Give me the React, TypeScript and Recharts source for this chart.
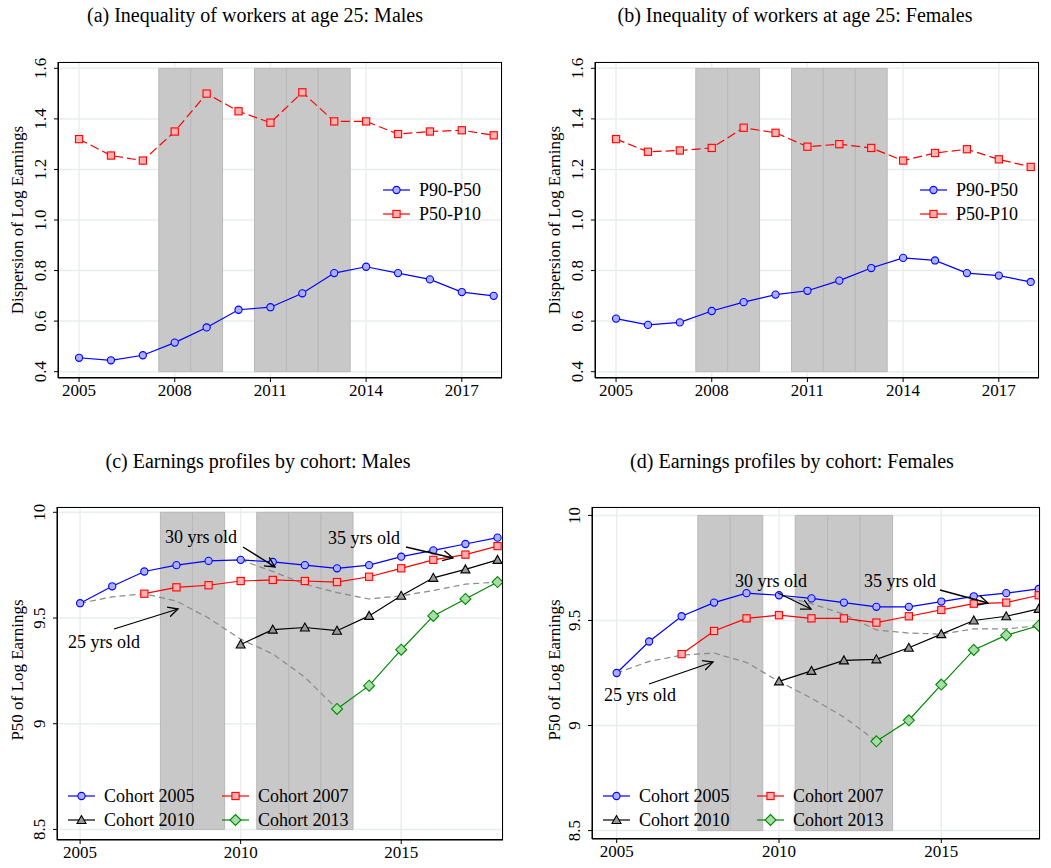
import React from 'react';
import { LineChart, Line, XAxis, YAxis, CartesianGrid, ReferenceArea } from 'recharts';

const years = [2005, 2006, 2007, 2008, 2009, 2010, 2011, 2012, 2013, 2014, 2015, 2016, 2017, 2018];

// (a) males, (b) females
const maleP9050 = [0.455, 0.445, 0.465, 0.515, 0.575, 0.645, 0.655, 0.71, 0.79, 0.815, 0.79, 0.765, 0.715, 0.7];
const maleP5010 = [1.32, 1.255, 1.235, 1.35, 1.5, 1.43, 1.385, 1.505, 1.39, 1.39, 1.34, 1.35, 1.355, 1.335];
const femP9050 = [0.61, 0.585, 0.595, 0.64, 0.675, 0.705, 0.72, 0.76, 0.81, 0.85, 0.84, 0.79, 0.78, 0.755];
const femP5010 = [1.32, 1.27, 1.275, 1.285, 1.365, 1.345, 1.29, 1.3, 1.285, 1.235, 1.265, 1.28, 1.24, 1.21];

// (c) males cohorts (null = not observed)
const mC2005 = [9.57, 9.65, 9.72, 9.75, 9.77, 9.775, 9.765, 9.75, 9.735, 9.75, 9.79, 9.82, 9.85, 9.88];
const mC2007 = [null, null, 9.615, 9.645, 9.655, 9.675, 9.68, 9.675, 9.67, 9.695, 9.735, 9.775, 9.8, 9.84];
const mC2010 = [null, null, null, null, null, 9.375, 9.445, 9.455, 9.44, 9.51, 9.605, 9.69, 9.73, 9.775];
const mC2013 = [null, null, null, null, null, null, null, null, 9.07, 9.18, 9.35, 9.51, 9.59, 9.67];
const mAge25 = [9.57, 9.6, 9.615, 9.58, 9.5, 9.4, 9.33, 9.22, 9.07, null, null, null, null, null];
const mAge30 = [null, null, null, null, null, 9.775, 9.72, 9.66, 9.62, 9.59, 9.605, 9.63, 9.66, 9.67];

// (d) females cohorts
const fC2005 = [9.25, 9.4, 9.52, 9.585, 9.63, 9.62, 9.605, 9.585, 9.565, 9.565, 9.59, 9.615, 9.63, 9.65];
const fC2007 = [null, null, 9.34, 9.45, 9.51, 9.525, 9.51, 9.51, 9.49, 9.52, 9.55, 9.58, 9.585, 9.62];
const fC2010 = [null, null, null, null, null, 9.21, 9.26, 9.31, 9.315, 9.37, 9.435, 9.5, 9.52, 9.555];
const fC2013 = [null, null, null, null, null, null, null, null, 8.925, 9.025, 9.195, 9.36, 9.43, 9.475];
const fAge25 = [9.25, 9.305, 9.335, 9.345, 9.3, 9.21, 9.13, 9.04, 8.925, null, null, null, null, null];
const fAge30 = [null, null, null, null, null, 9.62, 9.58, 9.53, 9.455, 9.44, 9.435, 9.46, 9.46, 9.475];

const recessions = [[2007.5, 2008.5], [2008.5, 2009.5], [2010.5, 2011.5], [2011.5, 2012.5], [2012.5, 2013.5]];

const FONT = 'Liberation Serif, Times New Roman, DejaVu Serif, serif';

const build = (cols: Record<string, (number | null)[]>) =>
  years.map((y, i) => {
    const row: any = { year: y };
    Object.keys(cols).forEach((k) => (row[k] = cols[k][i]));
    return row;
  });

const Circle = (c: string, f: string) => (p: any) =>
  p.value == null ? null : <circle cx={p.cx} cy={p.cy} r={3.6} stroke={c} fill={f} strokeWidth={1.1} />;
const Square = (c: string, f: string) => (p: any) =>
  p.value == null ? null : <rect x={p.cx - 3.6} y={p.cy - 3.6} width={7.2} height={7.2} stroke={c} fill={f} strokeWidth={1.1} />;
const Tri = (c: string, f: string) => (p: any) =>
  p.value == null ? null : (
    <polygon points={`${p.cx},${p.cy - 4.5} ${p.cx - 4.5},${p.cy + 3.5} ${p.cx + 4.5},${p.cy + 3.5}`} stroke={c} fill={f} strokeWidth={1.1} />
  );
const Diamond = (c: string, f: string) => (p: any) =>
  p.value == null ? null : (
    <polygon points={`${p.cx},${p.cy - 5.5} ${p.cx + 5.5},${p.cy} ${p.cx},${p.cy + 5.5} ${p.cx - 5.5},${p.cy}`} stroke={c} fill={f} strokeWidth={1.1} />
  );

const YTick = (p: any) => (
  <text x={p.x - 6} y={p.y} transform={`rotate(-90 ${p.x - 6} ${p.y})`} textAnchor="middle" style={{ fontSize: 17, fontFamily: FONT }} fill="#000">
    {p.fixed ? Number(p.payload.value).toFixed(1) : p.payload.value}
  </text>
);

type SeriesDef = { key: string; color: string; dot: any; dash?: string };

const Panel: React.FC<{
  left: number; top: number; width: number; height: number; mLeft: number; mRight: number; fixed?: boolean;
  data: any[]; series: SeriesDef[]; yDomain: [number, number]; yTicks: number[]; xDomain: [number, number]; xTicks: number[];
}> = (p) => (
  <div style={{ position: 'absolute', left: p.left, top: p.top }}>
    <LineChart width={p.width} height={p.height} data={p.data} margin={{ top: 22, right: p.mRight, left: p.mLeft, bottom: 2 }}>
      <CartesianGrid stroke="#e8eeee" strokeWidth={1.5} />
      {recessions.map((r, i) => (
        <ReferenceArea key={i} x1={r[0]} x2={r[1]} y1={p.yTicks[0]} y2={p.yTicks[p.yTicks.length - 1]} fill="#c8c8c8" fillOpacity={1} stroke="#b8b8b8" strokeWidth={1} ifOverflow="hidden" />
      ))}
      <XAxis dataKey="year" type="number" domain={p.xDomain} ticks={p.xTicks} height={30} tick={{ fontSize: 17, fontFamily: FONT, fill: '#000', style: { fontFamily: FONT } }} tickSize={4} stroke="#000" allowDataOverflow />
      <YAxis type="number" domain={p.yDomain} ticks={p.yTicks} width={40} tick={<YTick fixed={p.fixed} />} tickSize={4} stroke="#000" allowDataOverflow />
      {p.series.map((s) => (
        <Line key={s.key} dataKey={s.key} stroke={s.color} strokeWidth={1.2} strokeDasharray={s.dash} dot={s.dot} activeDot={false} isAnimationActive={false} connectNulls={false} />
      ))}
    </LineChart>
    <div style={{ position: 'absolute', left: p.mLeft + 40, top: 22, width: p.width - p.mLeft - 40 - p.mRight, height: p.height - 54, border: '1.5px solid #000', boxSizing: 'border-box', pointerEvents: 'none' }} />
  </div>
);

const txt = (x: number, y: number, s: string, size = 18, anchor = 'middle', rot = 0) => (
  <text x={x} y={y} textAnchor={anchor} style={{ fontSize: size, fontFamily: FONT }} transform={rot ? `rotate(${rot} ${x} ${y})` : undefined}>{s}</text>
);
const note = (x: number, y: number, s: string) => txt(x, y, s, 18, 'start');
const arrow = (x1: number, y1: number, x2: number, y2: number) => (
  <line x1={x1} y1={y1} x2={x2} y2={y2} stroke="#000" strokeWidth={1.3} markerEnd="url(#arr)" />
);

const legItem = (x: number, y: number, label: string, color: string, shape: any) => (
  <g>
    <line x1={x} y1={y} x2={x + 27} y2={y} stroke={color} strokeWidth={1.2} />
    {shape({ cx: x + 13.5, cy: y, value: 1 })}
    {txt(x + 36, y + 6, label, 18, 'start')}
  </g>
);

export default function App() {
  const ineqSeries: SeriesDef[] = [
    { key: 'p9050', color: '#0000ff', dot: Circle('#0000ff', '#aab0ff') },
    { key: 'p5010', color: '#ff0000', dash: '9 4', dot: Square('#ff0000', '#ffb0b0') },
  ];
  const cohortSeries: SeriesDef[] = [
    { key: 'a25', color: '#888', dash: '6 4', dot: false },
    { key: 'a30', color: '#888', dash: '6 4', dot: false },
    { key: 'c2005', color: '#0000ff', dot: Circle('#0000ff', '#aab0ff') },
    { key: 'c2007', color: '#ff0000', dot: Square('#ff0000', '#ffb0b0') },
    { key: 'c2010', color: '#000', dot: Tri('#000', '#999') },
    { key: 'c2013', color: '#008800', dot: Diamond('#008800', '#a8dca8') },
  ];
  const ineqX: [number, number] = [2004.34, 2018.26];
  const ineqTicks = [2005, 2008, 2011, 2014, 2017];
  const yI = [0.4, 0.6, 0.8, 1.0, 1.2, 1.4, 1.6];
  const dataA = build({ p9050: maleP9050, p5010: maleP5010 });
  const dataB = build({ p9050: femP9050, p5010: femP5010 });
  const dataC = build({ c2005: mC2005, c2007: mC2007, c2010: mC2010, c2013: mC2013, a25: mAge25, a30: mAge30 });
  const dataD = build({ c2005: fC2005, c2007: fC2007, c2010: fC2010, c2013: fC2013, a25: fAge25, a30: fAge30 });

  return (
    <div style={{ position: 'absolute', left: 0, top: 0, width: 1051, height: 868, background: '#fff', fontFamily: FONT }}>
      <Panel left={0} top={40} width={510} height={370} mLeft={18} mRight={8} fixed data={dataA} series={ineqSeries} yDomain={[0.375, 1.625]} yTicks={yI} xDomain={ineqX} xTicks={ineqTicks} />
      <Panel left={537} top={40} width={510} height={370} mLeft={18} mRight={8} fixed data={dataB} series={ineqSeries} yDomain={[0.375, 1.625]} yTicks={yI} xDomain={ineqX} xTicks={ineqTicks} />
      <Panel left={0} top={485} width={510} height={387} mLeft={17} mRight={7} data={dataC} series={cohortSeries} yDomain={[8.45, 10.025]} yTicks={[8.5, 9, 9.5, 10]} xDomain={[2004.28, 2018.17]} xTicks={[2005, 2010, 2015]} />
      <Panel left={535} top={485} width={512} height={386} mLeft={17} mRight={7} data={dataD} series={cohortSeries} yDomain={[8.46, 10.04]} yTicks={[8.5, 9, 9.5, 10]} xDomain={[2004.24, 2018.04]} xTicks={[2005, 2010, 2015]} />
      <svg width={1051} height={868} style={{ position: 'absolute', left: 0, top: 0, pointerEvents: 'none' }}>
        <defs>
          <marker id="arr" markerWidth="12" markerHeight="12" refX="10" refY="6" orient="auto" markerUnits="userSpaceOnUse">
            <path d="M0,1 L10,6 L0,11" fill="none" stroke="#000" strokeWidth={1.3} />
          </marker>
        </defs>
        {txt(255, 22, '(a) Inequality of workers at age 25: Males', 20)}
        {txt(795, 22, '(b) Inequality of workers at age 25: Females', 20)}
        {txt(258, 468, '(c) Earnings profiles by cohort: Males', 20)}
        {txt(792, 468, '(d) Earnings profiles by cohort: Females', 20)}
        {txt(23, 220, 'Dispersion of Log Earnings', 17, 'middle', -90)}
        {txt(560, 220, 'Dispersion of Log Earnings', 17, 'middle', -90)}
        {txt(23, 670, 'P50 of Log Earnings', 17, 'middle', -90)}
        {txt(560, 670, 'P50 of Log Earnings', 17, 'middle', -90)}
        {legItem(383, 190, 'P90-P50', '#0000ff', Circle('#0000ff', '#aab0ff'))}
        {legItem(383, 214, 'P50-P10', '#ff0000', Square('#ff0000', '#ffb0b0'))}
        {legItem(920, 190, 'P90-P50', '#0000ff', Circle('#0000ff', '#aab0ff'))}
        {legItem(920, 214, 'P50-P10', '#ff0000', Square('#ff0000', '#ffb0b0'))}
        {legItem(68, 796, 'Cohort 2005', '#0000ff', Circle('#0000ff', '#aab0ff'))}
        {legItem(68, 820, 'Cohort 2010', '#000', Tri('#000', '#999'))}
        {legItem(222, 796, 'Cohort 2007', '#ff0000', Square('#ff0000', '#ffb0b0'))}
        {legItem(222, 820, 'Cohort 2013', '#008800', Diamond('#008800', '#a8dca8'))}
        {legItem(603, 796, 'Cohort 2005', '#0000ff', Circle('#0000ff', '#aab0ff'))}
        {legItem(603, 820, 'Cohort 2010', '#000', Tri('#000', '#999'))}
        {legItem(757, 796, 'Cohort 2007', '#ff0000', Square('#ff0000', '#ffb0b0'))}
        {legItem(757, 820, 'Cohort 2013', '#008800', Diamond('#008800', '#a8dca8'))}
        {note(165, 543, '30 yrs old')}
        {arrow(243, 547, 275, 567)}
        {note(328, 544, '35 yrs old')}
        {arrow(406, 547, 453, 558)}
        {note(68, 648, '25 yrs old')}
        {arrow(114, 629, 178, 609)}
        {note(735, 587, '30 yrs old')}
        {arrow(778, 593, 811, 609)}
        {note(864, 587, '35 yrs old')}
        {arrow(940, 590, 988, 603)}
        {note(604, 701, '25 yrs old')}
        {arrow(649, 684, 713, 662)}
      </svg>
    </div>
  );
}
